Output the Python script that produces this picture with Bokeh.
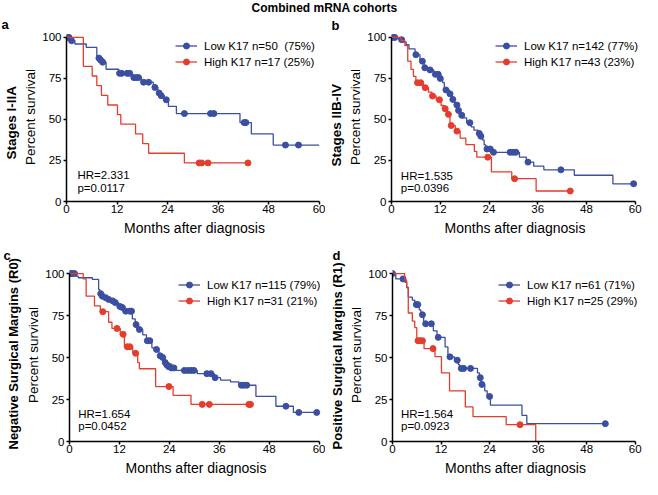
import numpy as np
from bokeh.plotting import figure
from bokeh.models import Range1d, FixedTicker, Label, Legend, LegendItem, Title
from bokeh.layouts import column, row
from bokeh.embed import file_html
from bokeh.resources import INLINE

# ---------------- data ----------------
x_ticks = [0, 12, 24, 36, 48, 60]
y_ticks = [0, 25, 50, 75, 100]

# panel a : Stages I-IIA
a_low_t = [0, 0.9, 2.0, 4.7, 7.2, 8.0, 8.3, 9.4, 12.4, 15.5, 17.8, 20.6, 21.7, 22.3, 23.2, 24.2, 26.1, 41.2, 43.9, 49.1]
a_low_s = [100, 98.0, 96.0, 93.9, 87.4, 86.2, 84.9, 80.6, 78.1, 75.5, 72.7, 69.5, 66.1, 64.5, 62.0, 58.0, 53.6, 48.1, 41.2, 34.4]
a_low_end = 60.0
a_low_cens = [0.3, 0.6, 1.2, 7.7, 8.1, 8.6, 12.6, 13.1, 14.4, 15.0, 16.0, 16.6, 17.1, 18.3, 19.5, 21.0, 22.0, 22.5, 23.7, 28.0, 34.2, 35.0, 42.2, 42.6, 52.0, 55.1]
a_high_t = [0, 4.0, 6.1, 7.2, 8.3, 9.8, 12.1, 12.9, 16.4, 18.1, 19.5, 28.0]
a_high_s = [100, 82.4, 76.5, 70.6, 64.7, 58.8, 52.9, 47.1, 41.2, 35.3, 29.4, 23.5]
a_high_end = 43.1
a_high_cens = [31.5, 32.1, 33.6, 43.1]

# panel b : Stages IIB-IV
b_low_t = [0, 1.5, 2.2, 3.0, 3.6, 4.3, 5.8, 7.0, 8.0, 9.0, 10.4, 11.9, 12.6, 13.0, 14.2, 14.9, 15.5, 16.2, 16.8, 17.4, 18.5, 19.6, 20.3, 21.3, 21.8, 22.4, 22.8, 23.2, 25.0, 31.5, 33.2, 35.0, 37.5, 45.0, 54.5]
b_low_s = [100, 99.3, 98.6, 97.2, 95.6, 93.0, 89.5, 85.5, 81.5, 80.2, 77.5, 75.0, 72.5, 68.0, 65.6, 62.2, 58.8, 55.5, 52.5, 51.0, 48.0, 45.5, 43.5, 41.5, 39.8, 37.5, 34.5, 32.0, 30.0, 27.0, 24.0, 21.5, 19.3, 16.0, 10.8]
b_low_end = 59.6
b_low_cens = [0.3, 0.8, 2.5, 6.0, 7.6, 8.2, 9.5, 10.8, 11.5, 12.0, 13.4, 14.4, 15.1, 16.1, 16.5, 17.3, 19.3, 21.6, 22.0, 23.5, 24.3, 25.1, 29.2, 29.9, 30.6, 33.6, 41.7, 59.6]
b_high_t = [0, 2.3, 3.3, 4.0, 4.8, 5.4, 6.0, 7.8, 9.1, 9.9, 11.0, 12.2, 12.9, 13.8, 14.4, 15.7, 16.9, 18.3, 20.4, 21.0, 24.6, 29.6, 35.6]
b_high_s = [100, 98.0, 95.0, 85.5, 80.5, 76.3, 72.4, 69.4, 66.6, 64.3, 62.0, 58.5, 56.6, 53.1, 46.3, 42.9, 38.6, 34.7, 30.5, 27.0, 18.0, 13.9, 6.4]
b_high_end = 44.0
b_high_cens = [6.4, 7.2, 8.3, 10.1, 11.8, 13.2, 14.0, 14.7, 16.1, 23.7, 30.3, 44.0]

# panel c : Negative Surgical Margins (R0)
c_low_t = [0, 1.5, 2.1, 5.5, 7.0, 7.3, 7.7, 8.4, 9.2, 10.1, 10.8, 11.8, 12.5, 13.3, 15.1, 15.8, 16.2, 17.6, 18.5, 19.8, 20.7, 21.5, 22.2, 22.8, 23.2, 23.7, 24.3, 25.5, 30.7, 34.8, 36.3, 38.7, 40.7, 44.8, 49.6, 53.8]
c_low_s = [100, 98.5, 97.5, 96.5, 90.4, 88.0, 86.5, 85.6, 84.6, 83.7, 82.7, 80.4, 79.8, 77.6, 73.0, 69.6, 66.7, 63.5, 60.0, 55.8, 54.8, 51.0, 50.0, 47.0, 45.6, 44.6, 43.8, 42.3, 40.4, 38.0, 36.5, 35.5, 33.5, 26.9, 21.0, 17.3]
c_low_end = 59.4
c_low_cens = [0.2, 0.7, 1.2, 7.5, 7.9, 8.7, 9.4, 10.4, 11.0, 12.1, 12.7, 13.5, 14.5, 14.9, 16.0, 16.8, 18.7, 19.3, 20.9, 21.8, 22.4, 23.0, 23.4, 23.8, 24.1, 24.5, 25.1, 27.6, 28.4, 29.2, 29.9, 33.0, 34.0, 35.0, 41.3, 41.9, 42.6, 52.0, 55.1, 59.4]
c_high_t = [0, 3.3, 4.0, 6.0, 7.4, 9.4, 10.2, 12.2, 13.2, 15.2, 16.4, 16.8, 20.7, 24.9, 29.2]
c_high_s = [100, 96.8, 86.5, 80.8, 77.3, 71.0, 67.3, 63.8, 56.4, 52.5, 47.0, 43.3, 32.7, 27.5, 22.1]
c_high_end = 43.5
c_high_cens = [8.0, 11.4, 12.9, 13.9, 14.5, 15.9, 23.9, 31.9, 33.6, 43.1, 43.5]

# panel d : Positive Surgical Margins (R1)
d_low_t = [0, 0.8, 3.1, 3.5, 3.9, 4.9, 5.5, 6.6, 7.0, 7.7, 10.1, 11.0, 13.0, 13.7, 15.3, 16.3, 16.6, 21.0, 21.5, 21.9, 22.8, 23.4, 24.2, 32.0, 33.2]
d_low_s = [100, 96.8, 94.8, 91.9, 86.0, 84.2, 81.5, 78.4, 75.5, 70.1, 65.9, 62.0, 56.3, 50.4, 48.4, 45.7, 43.5, 40.8, 38.0, 34.0, 30.2, 26.8, 21.6, 15.6, 10.6]
d_low_end = 52.6
d_low_cens = [0.0, 2.6, 5.9, 6.25, 7.4, 8.2, 9.6, 11.3, 14.2, 16.0, 17.0, 17.6, 19.3, 21.7, 22.1, 24.0, 52.6]
d_high_t = [0, 3.0, 3.5, 3.9, 4.9, 5.5, 6.0, 7.8, 10.5, 12.1, 14.1, 18.0, 19.9, 28.1, 35.4]
d_high_s = [100, 96.0, 91.5, 76.5, 71.7, 67.8, 60.0, 55.3, 50.5, 40.8, 30.2, 20.6, 14.8, 10.0, 0.0]
d_high_end = 35.4
d_high_cens = [6.3, 6.8, 7.4, 10.0, 31.5]

a_labels = ["Low K17 n=50  (75%)", "High K17 n=17 (25%)"]
b_labels = ["Low K17 n=142 (77%)", "High K17 n=43 (23%)"]
c_labels = ["Low K17 n=115 (79%)", "High K17 n=31 (21%)"]
d_labels = ["Low K17 n=61 (71%)", "High K17 n=25 (29%)"]
hr_texts = ["HR=2.331", "HR=1.535", "HR=1.654", "HR=1.564"]
p_texts = ["p=0.0117", "p=0.0396", "p=0.0452", "p=0.0923"]
row_labels = ["Stages I-IIA", "Stages IIB-IV", "Negative Surgical Margins (R0)", "Positive Surgical Margins (R1)"]
letters = ["a", "b", "c", "d"]
title_text = "Combined mRNA cohorts"

# ---------------- style ----------------
FONT = "Liberation Sans"
BLUE = "#3B4FA2"
RED = "#E43D2E"
X_END = 60.8
Y_END = 103.0


def step_xy(t, s, end):
    return list(t) + [end], list(s) + [s[-1]]


def cens_y(t, s, c):
    idx = np.searchsorted(np.array(t), np.array(c), side="right") - 1
    return list(np.array(s)[idx])


def make_panel(i, low, high, labels, width, height, left, right, top, bottom,
               leg_x, leg_top, hr_xy, letter_off, letter_standoff, rlab_off, rlab_standoff, rlab_size):
    p = figure(width=width, height=height, x_range=Range1d(0, X_END), y_range=Range1d(0, Y_END),
               min_border_left=left, min_border_right=right, min_border_top=top,
               min_border_bottom=bottom, toolbar_location=None, output_backend="svg",
               title=None)
    fh = height - top - bottom

    p.xgrid.visible = False
    p.ygrid.visible = False
    p.outline_line_color = None
    p.background_fill_color = "white"
    p.border_fill_color = "white"

    for ax in (p.xaxis[0], p.yaxis[0]):
        ax.axis_line_width = 1.5
        ax.axis_line_color = "black"
        ax.major_tick_line_width = 1.5
        ax.major_tick_line_color = "black"
        ax.major_tick_out = 3
        ax.major_tick_in = 0
        ax.minor_tick_line_color = None
        ax.major_label_text_font = FONT
        ax.major_label_text_font_size = "11.5px"
        ax.major_label_text_color = "black"
        ax.axis_label_text_font = FONT
        ax.axis_label_text_font_style = "normal"
        ax.axis_label_text_color = "black"
    p.xaxis.ticker = FixedTicker(ticks=x_ticks)
    p.yaxis.ticker = FixedTicker(ticks=y_ticks)
    p.xaxis.bounds = (0, 60)
    p.yaxis.bounds = (0, 100)
    p.xaxis.axis_label = "Months after diagnosis"
    p.yaxis.axis_label = "Percent survival"
    p.xaxis.axis_label_text_font_size = "14px"
    p.yaxis.axis_label_text_font_size = "13.5px"
    p.xaxis.major_label_standoff = 0
    p.yaxis.major_label_standoff = 2
    p.xaxis.axis_label_standoff = 4
    p.yaxis.axis_label_standoff = 1

    items = []
    for (t, s, end, cens), color, lab in zip((low, high), (BLUE, RED), labels):
        xs, ys = step_xy(t, s, end)
        lr = p.step(xs, ys, mode="after", line_color=color, line_width=1.3)
        cr = p.scatter(cens, cens_y(t, s, cens), size=6, marker="circle",
                       fill_color=color, line_color=color)
        items.append(LegendItem(label=lab, renderers=[lr, cr]))

    leg_h = 2 * 15 + 1
    leg = Legend(items=items, location=(leg_x, fh - leg_top - leg_h), margin=0, padding=0, spacing=1,
                 label_height=15, glyph_height=15, glyph_width=22, label_standoff=7,
                 border_line_color=None, background_fill_alpha=0,
                 label_text_font=FONT, label_text_font_size="11.5px", label_text_color="black")
    p.add_layout(leg)

    p.add_layout(Label(x=hr_xy[0], y=hr_xy[1], text=hr_texts[i], text_font=FONT, text_font_size="11.5px",
                       text_baseline="middle", text_align="left", text_color="black"))
    p.add_layout(Label(x=hr_xy[0], y=hr_xy[2], text=p_texts[i], text_font=FONT, text_font_size="11.5px",
                       text_baseline="middle", text_align="left", text_color="black"))

    p.add_layout(Title(text=letters[i], align="left", offset=letter_off, standoff=letter_standoff,
                       text_font=FONT, text_font_size="13px", text_font_style="bold",
                       text_color="black"), "above")
    p.add_layout(Title(text=row_labels[i], align="left", offset=rlab_off, standoff=rlab_standoff,
                       text_font=FONT, text_font_size=rlab_size, text_font_style="bold",
                       text_color="black"), "left")
    return p


H1, H2 = 225, 240
pa = make_panel(0, (a_low_t, a_low_s, a_low_end, a_low_cens), (a_high_t, a_high_s, a_high_end, a_high_cens),
                a_labels, 325, H1, 63, 3, 16, 38, 109, 8, (2.6, 15.9, 8.3), -65, 1, 42, 3, "13.5px")
pb = make_panel(1, (b_low_t, b_low_s, b_low_end, b_low_cens), (b_high_t, b_high_s, b_high_end, b_high_cens),
                b_labels, 317, H1, 65, 4, 16, 38, 104, 8, (2.3, 15.5, 8.0), -60, 0, 35, 3, "13.5px")
pc = make_panel(2, (c_low_t, c_low_s, c_low_end, c_low_cens), (c_high_t, c_high_s, c_high_end, c_high_cens),
                c_labels, 325, H2, 63, 3, 29, 38, 109, 9, (2.1, 16.3, 9.0), -66, 12, -8, 6, "13px")
pd_ = make_panel(3, (d_low_t, d_low_s, d_low_end, d_low_cens), (d_high_t, d_high_s, d_high_end, d_high_cens),
                 d_labels, 317, H2, 65, 4, 29, 38, 106, 9, (2.1, 16.2, 9.0), -60, 12, -8, 4, "13px")

tf = figure(width=642, height=14, x_range=Range1d(0, 642), y_range=Range1d(14, 0),
            min_border=0, toolbar_location=None, output_backend="svg", title=None,
            x_axis_location=None, y_axis_location=None)
tf.xgrid.visible = False
tf.ygrid.visible = False
tf.outline_line_color = None
tf.add_layout(Label(x=324, y=7.5, text=title_text, text_font=FONT, text_font_size="12px",
                    text_font_style="bold", text_align="center", text_baseline="middle",
                    text_color="black"))

layout = column(tf, row(pa, pb), row(pc, pd_))
open("out.html", "w").write(file_html(layout, INLINE))
